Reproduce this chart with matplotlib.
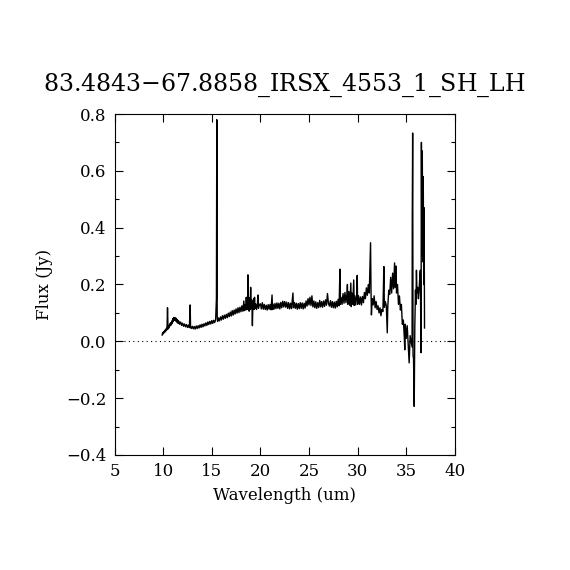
import numpy as np
import matplotlib.pyplot as plt
from matplotlib.ticker import MultipleLocator, FuncFormatter

title = "83.4843$-$67.8858_IRSX_4553_1_SH_LH"

# SH module (short-high)
wave_sh = [9.90, 9.95, 10.00, 10.05, 10.10, 10.15, 10.20, 10.25, 10.30, 10.35,
           10.40, 10.45, 10.50, 10.55, 10.60, 10.62, 10.70, 10.75, 10.80, 10.85,
           10.90, 10.95, 11.00, 11.05, 11.10, 11.15, 11.20, 11.25, 11.30, 11.35,
           11.40, 11.45, 11.50, 11.55, 11.60, 11.70, 11.80, 11.90, 12.00, 12.10,
           12.20, 12.30, 12.40, 12.50, 12.60, 12.70, 12.78, 12.82, 12.90, 13.00,
           13.10, 13.20, 13.30, 13.40, 13.50, 13.60, 13.70, 13.80, 13.90, 14.00,
           14.10, 14.20, 14.30, 14.40, 14.50, 14.60, 14.70, 14.80, 14.90, 15.00,
           15.10, 15.20, 15.30, 15.40, 15.48, 15.52, 15.56, 15.60, 15.70, 15.80,
           15.90, 16.00, 16.10, 16.20, 16.30, 16.40, 16.50, 16.60, 16.70, 16.80,
           16.90, 17.00, 17.10, 17.20, 17.30, 17.40, 17.50, 17.60, 17.70, 17.80,
           17.90, 18.00, 18.10, 18.20, 18.30, 18.35, 18.40, 18.50, 18.55, 18.60,
           18.70, 18.72, 18.76, 18.80, 18.85, 18.90, 18.95, 19.00, 19.05, 19.10,
           19.15, 19.18, 19.22, 19.30, 19.35, 19.40, 19.45, 19.50]
flux_sh = [0.022, 0.030, 0.026, 0.034, 0.030, 0.038, 0.033, 0.042, 0.037, 0.046,
           0.041, 0.118, 0.048, 0.044, 0.056, 0.050, 0.062, 0.055, 0.066, 0.058,
           0.072, 0.064, 0.080, 0.070, 0.084, 0.074, 0.083, 0.073, 0.082, 0.070,
           0.078, 0.066, 0.074, 0.063, 0.071, 0.060, 0.068, 0.056, 0.064, 0.053,
           0.061, 0.051, 0.059, 0.049, 0.057, 0.048, 0.128, 0.050, 0.045, 0.053,
           0.044, 0.052, 0.043, 0.054, 0.045, 0.055, 0.047, 0.058, 0.049, 0.060,
           0.051, 0.062, 0.054, 0.065, 0.056, 0.068, 0.059, 0.070, 0.061, 0.073,
           0.063, 0.074, 0.066, 0.076, 0.150, 0.780, 0.090, 0.070, 0.082, 0.072,
           0.086, 0.075, 0.090, 0.078, 0.092, 0.081, 0.095, 0.083, 0.099, 0.087,
           0.103, 0.089, 0.108, 0.092, 0.110, 0.096, 0.114, 0.099, 0.118, 0.101,
           0.120, 0.104, 0.125, 0.106, 0.142, 0.108, 0.128, 0.110, 0.155, 0.112,
           0.135, 0.234, 0.112, 0.155, 0.106, 0.140, 0.112, 0.190, 0.115, 0.145,
           0.108, 0.055, 0.118, 0.150, 0.112, 0.155, 0.116, 0.132]

# LH module (long-high)
wave_lh = [19.60, 19.70, 19.75, 19.80, 19.90, 20.00, 20.10, 20.20, 20.30, 20.40,
           20.50, 20.60, 20.70, 20.80, 20.90, 21.00, 21.10, 21.20, 21.25, 21.30,
           21.40, 21.50, 21.60, 21.70, 21.80, 21.90, 22.00, 22.10, 22.20, 22.30,
           22.40, 22.50, 22.60, 22.70, 22.80, 22.90, 23.00, 23.10, 23.20, 23.35,
           23.40, 23.50, 23.60, 23.70, 23.80, 23.90, 24.00, 24.10, 24.20, 24.30,
           24.40, 24.50, 24.60, 24.70, 24.80, 24.90, 25.00, 25.10, 25.20, 25.30,
           25.40, 25.50, 25.60, 25.70, 25.80, 25.90, 26.00, 26.10, 26.20, 26.30,
           26.40, 26.50, 26.60, 26.70, 26.80, 26.90, 27.00, 27.10, 27.20, 27.30,
           27.40, 27.50, 27.60, 27.70, 27.80, 27.90, 28.00, 28.10, 28.18, 28.22,
           28.30, 28.40, 28.50, 28.60, 28.70, 28.80, 28.90, 28.95, 29.00, 29.10,
           29.20, 29.30, 29.35, 29.40, 29.50, 29.60, 29.65, 29.70, 29.80, 29.90,
           29.96, 30.00, 30.10, 30.20, 30.30, 30.40, 30.50, 30.60, 30.70, 30.80,
           30.90, 31.00, 31.10, 31.20, 31.33, 31.38, 31.42, 31.50, 31.60, 31.70,
           31.80, 31.90, 32.00, 32.10, 32.20, 32.30, 32.40, 32.50, 32.60, 32.70,
           32.75, 32.85, 32.95, 33.05, 33.10, 33.20, 33.30, 33.40, 33.50, 33.60,
           33.70, 33.80, 33.85, 33.95, 34.00, 34.10, 34.20, 34.30, 34.40, 34.50,
           34.60, 34.70, 34.80, 34.85, 34.90, 35.00, 35.10, 35.20, 35.30, 35.40,
           35.50, 35.60, 35.62, 35.66, 35.70, 35.75, 35.82, 35.88, 35.95, 36.00,
           36.05, 36.10, 36.18, 36.25, 36.32, 36.40, 36.45, 36.52, 36.56, 36.60,
           36.65, 36.70, 36.75, 36.80, 36.84, 36.88]
flux_lh = [0.112, 0.134, 0.163, 0.116, 0.130, 0.132, 0.114, 0.136, 0.113, 0.130,
           0.112, 0.127, 0.110, 0.129, 0.113, 0.130, 0.111, 0.163, 0.112, 0.131,
           0.113, 0.133, 0.115, 0.135, 0.116, 0.134, 0.114, 0.137, 0.118, 0.141,
           0.121, 0.140, 0.120, 0.138, 0.116, 0.136, 0.114, 0.134, 0.115, 0.170,
           0.118, 0.137, 0.116, 0.134, 0.113, 0.133, 0.115, 0.136, 0.116, 0.135,
           0.114, 0.134, 0.117, 0.142, 0.124, 0.150, 0.128, 0.155, 0.126, 0.160,
           0.121, 0.142, 0.118, 0.139, 0.116, 0.136, 0.119, 0.144, 0.121, 0.140,
           0.120, 0.142, 0.123, 0.146, 0.127, 0.168, 0.133, 0.124, 0.143, 0.120,
           0.140, 0.118, 0.138, 0.117, 0.141, 0.121, 0.148, 0.125, 0.254, 0.130,
           0.155, 0.130, 0.168, 0.134, 0.172, 0.136, 0.165, 0.200, 0.130, 0.175,
           0.126, 0.205, 0.122, 0.170, 0.130, 0.216, 0.126, 0.160, 0.128, 0.165,
           0.232, 0.130, 0.160, 0.130, 0.156, 0.128, 0.158, 0.136, 0.172, 0.150,
           0.188, 0.162, 0.200, 0.170, 0.347, 0.172, 0.093, 0.150, 0.128, 0.160,
           0.118, 0.140, 0.112, 0.125, 0.100, 0.118, 0.090, 0.112, 0.105, 0.263,
           0.120, 0.140, 0.125, 0.030, 0.120, 0.180, 0.165, 0.225, 0.170, 0.240,
           0.185, 0.276, 0.190, 0.265, 0.170, 0.200, 0.130, 0.160, 0.110, 0.130,
           0.060, 0.075, 0.015, -0.030, 0.060, 0.010, 0.055, -0.010, -0.076, 0.020,
           0.000, -0.020, 0.430, 0.733, -0.050, -0.060, -0.229, 0.050, 0.180, 0.130,
           0.250, 0.170, 0.190, 0.150, 0.180, 0.230, 0.250, -0.040, 0.700, 0.300,
           0.670, 0.280, 0.580, 0.200, 0.470, 0.047]

wave = np.array(wave_sh + wave_lh)
flux = np.array(flux_sh + flux_lh)

plt.rcParams['font.family'] = 'DejaVu Serif'
plt.rcParams['mathtext.fontset'] = 'dejavuserif'

fig = plt.figure(figsize=(5.7, 5.7), dpi=100)
ax = fig.add_axes([0.2009, 0.2018, 0.5971, 0.5982])

ax.plot(wave, flux, color='black', linewidth=1.0)
ax.axhline(0.0, color='black', linestyle=(0, (1, 3)), linewidth=0.8)

ax.set_xlim(5, 40)
ax.set_ylim(-0.4, 0.8)
ax.xaxis.set_major_locator(MultipleLocator(5))
ax.yaxis.set_major_locator(MultipleLocator(0.2))
ax.yaxis.set_minor_locator(MultipleLocator(0.1))
ax.yaxis.set_major_formatter(FuncFormatter(lambda v, p: f"{v:.1f}".replace('-', '\u2212')))
ax.tick_params(which='both', direction='in', top=True, right=True, labelsize=12, width=0.8, pad=6)
ax.tick_params(which='major', length=6)
ax.tick_params(which='minor', length=3)
for s in ax.spines.values():
    s.set_linewidth(0.8)

ax.set_xlabel("Wavelength (um)", fontsize=12, labelpad=5)
ax.set_ylabel("Flux (Jy)", fontsize=12, labelpad=9)
ax.set_title(title, fontsize=17, pad=17)

fig.savefig("out.png", dpi=100)
